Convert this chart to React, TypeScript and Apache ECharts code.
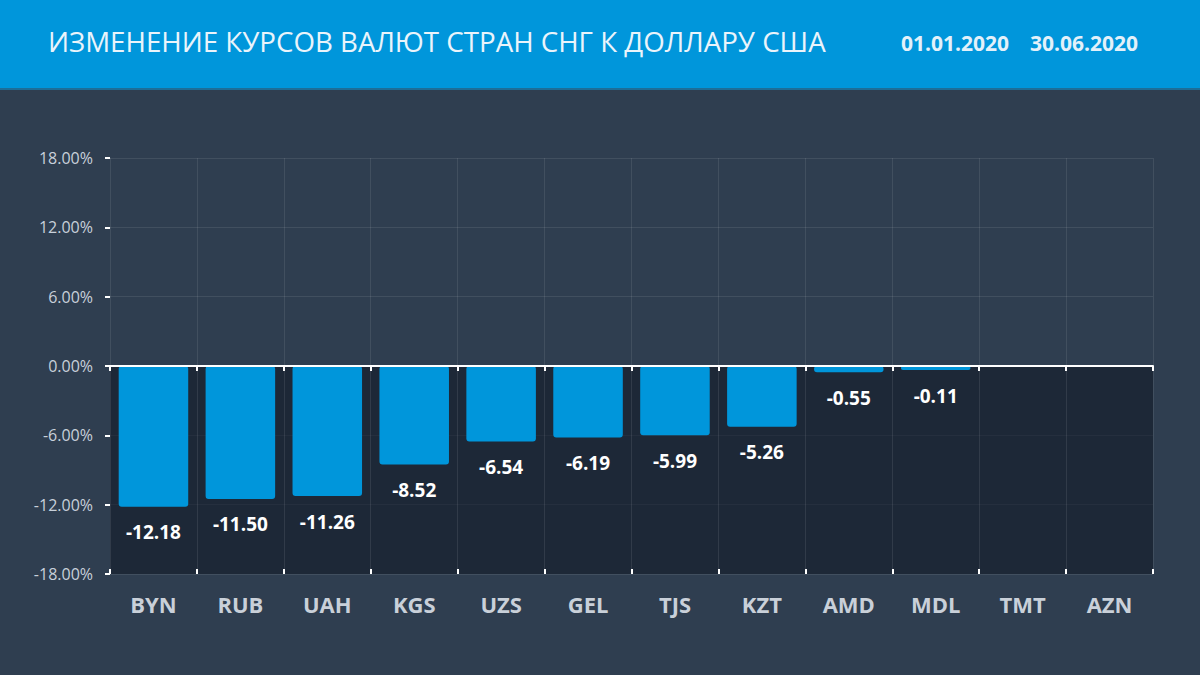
import React, { useEffect, useRef } from "react";
import * as echarts from "echarts";

const titleText = "ИЗМЕНЕНИЕ КУРСОВ ВАЛЮТ СТРАН СНГ К ДОЛЛАРУ США";
const dateFrom = "01.01.2020";
const dateTo = "30.06.2020";
const currencies = ["BYN", "RUB", "UAH", "KGS", "UZS", "GEL", "TJS", "KZT", "AMD", "MDL", "TMT", "AZN"];
const changes = [-12.18, -11.5, -11.26, -8.52, -6.54, -6.19, -5.99, -5.26, -0.55, -0.11, 0, 0];
const yMin = -18;
const yMax = 18;
const yStep = 6;

export default function App() {
  const ref = useRef<HTMLDivElement>(null);
  useEffect(() => {
    if (!ref.current) return;
    const chart = echarts.init(ref.current, null, { renderer: "svg" });
    const gridLine = { show: true, lineStyle: { color: "rgba(255,255,255,0.09)", width: 1 } };
    const barData = changes.map((v) => (v === 0 ? { value: v, itemStyle: { opacity: 0 } } : v));
    chart.setOption({
      animation: false,
      backgroundColor: "#2F3E50",
      graphic: [
        { type: "rect", left: 0, top: 0, shape: { width: 1200, height: 88 }, style: { fill: "#0096DB" }, z: 0 },
        { type: "rect", left: 0, top: 88, shape: { width: 1200, height: 2 }, style: { fill: "#1D6E98" }, z: 0 },
        {
          type: "text", left: 48, top: 27,
          style: { text: titleText, fill: "#EAF4FB", font: "400 27.7px 'Open Sans', sans-serif" },
        },
        {
          type: "text", left: 901, top: 32,
          style: { text: dateFrom, fill: "#E3F1FA", font: "700 21px 'Open Sans', sans-serif" },
        },
        {
          type: "text", left: 1030, top: 32,
          style: { text: dateTo, fill: "#E3F1FA", font: "700 21px 'Open Sans', sans-serif" },
        },
      ],
      grid: { left: 110, right: 47, top: 158, bottom: 101 },
      xAxis: [
        {
          type: "category",
          data: currencies,
          z: 5,
          axisLine: { show: true, lineStyle: { color: "#FFFFFF", width: 2 } },
          axisTick: { show: true, length: 5, lineStyle: { color: "#FFFFFF", width: 2 } },
          axisLabel: { color: "#C9D0D9", fontSize: 22, fontWeight: 700, fontFamily: "'Open Sans', sans-serif", margin: 19 },
          splitLine: gridLine,
        },
        {
          type: "category",
          data: currencies,
          position: "bottom",
          z: 6,
          axisLine: { show: false },
          axisTick: { show: true, inside: true, length: 5, lineStyle: { color: "#FFFFFF", width: 2 } },
          axisLabel: { show: false },
          splitLine: { show: false },
        },
      ],
      yAxis: {
        type: "value",
        min: yMin,
        max: yMax,
        interval: yStep,
        axisLine: { show: false },
        axisTick: { show: true, length: 5, lineStyle: { color: "#FFFFFF", width: 2 } },
        axisLabel: {
          color: "#C8D0DA",
          fontSize: 16,
          fontFamily: "'Open Sans', sans-serif",
          margin: 17,
          formatter: (v: number) => v.toFixed(2) + "%",
        },
        splitLine: gridLine,
      },
      series: [
        {
          type: "bar",
          xAxisIndex: 0,
          data: barData,
          barWidth: "80%",
          barMinHeight: 4,
          itemStyle: { color: "#0096DB", borderRadius: 3 },
          label: {
            show: true,
            position: "bottom",
            distance: 16,
            color: "#FFFFFF",
            fontSize: 19,
            fontWeight: 700,
            fontFamily: "'Open Sans', sans-serif",
            formatter: (p: any) => (p.value === 0 ? "" : Number(p.value).toFixed(2)),
          },
          markArea: {
            silent: true,
            itemStyle: { color: "rgba(14,21,34,0.55)" },
            data: [[{ yAxis: 0 }, { yAxis: yMin }]],
          },
          markLine: {
            silent: true,
            symbol: "none",
            label: { show: false },
            lineStyle: { color: "#0B0F16", width: 2, type: "solid" },
            data: [{ yAxis: 0 }],
          },
        },
      ],
    });
    return () => chart.dispose();
  }, []);
  return <div ref={ref} style={{ position: "fixed", left: 0, top: 0, width: 1200, height: 675 }} />;
}
